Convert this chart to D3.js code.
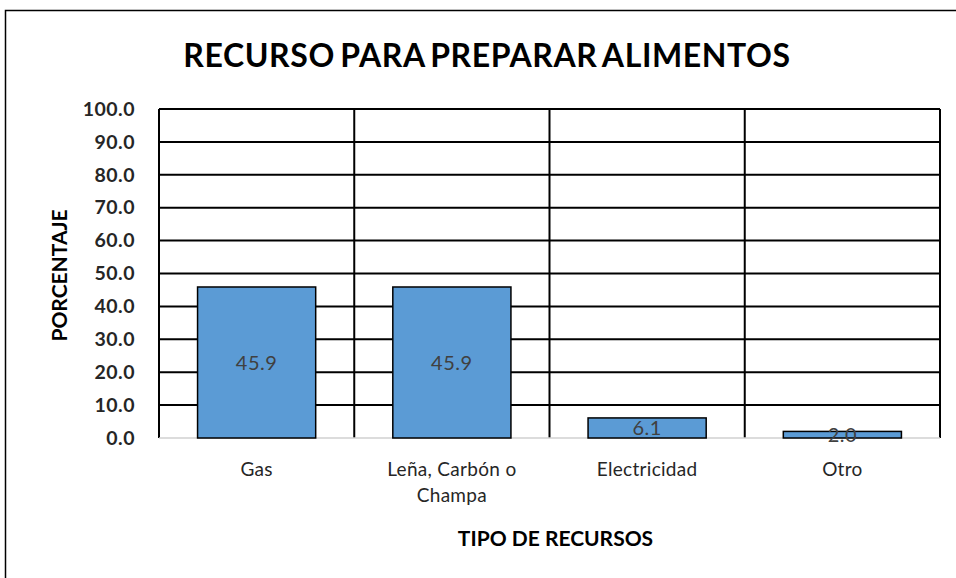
<!DOCTYPE html>
<html>
<head>
<meta charset="utf-8">
<script src="https://cdn.jsdelivr.net/npm/d3@7"></script>
<style>
  body { margin: 0; background: #fff; }
  svg { display: block; }
</style>
</head>
<body>
<svg id="contenedor"></svg>
<script>
// datos del grafico
let categorias = ["Gas", "Leña, Carbón o Champa", "Electricidad", "Otro"];
let etiquetas = [["Gas"], ["Leña, Carbón o", "Champa"], ["Electricidad"], ["Otro"]];
let valores = [45.9, 45.9, 6.1, 2.0];
let ticksY = [0, 10, 20, 30, 40, 50, 60, 70, 80, 90, 100];

let width = 956, height = 578;
let margin = { top: 109, left: 159, right: 16, bottom: 140 };
let bodyWidth = width - margin.left - margin.right;
let bodyHeight = height - margin.top - margin.bottom;

let fuente = "Lato, 'Open Sans', sans-serif";

let svg = d3.select("#contenedor").attr("width", width).attr("height", height);

// borde del area del grafico
svg.append("rect")
  .attr("x", 5.5).attr("y", 10.5)
  .attr("width", 1000).attr("height", 1000)
  .attr("fill", "#fff").attr("stroke", "#000").attr("stroke-width", 1.5);

// escalas
let xScale = d3.scaleBand().domain(categorias).range([0, bodyWidth]).paddingInner(0).paddingOuter(0);
let yScale = d3.scaleLinear().domain([0, 100]).range([bodyHeight, 0]);

let body = svg.append("g").attr("transform", `translate(${margin.left},${margin.top})`);

// lineas de cuadricula horizontales
body.selectAll(".gridY")
  .data(ticksY.filter(d => d > 0))
  .enter().append("line")
  .attr("x1", 0).attr("x2", bodyWidth)
  .attr("y1", d => yScale(d)).attr("y2", d => yScale(d))
  .attr("stroke", "#000").attr("stroke-width", 2);

// lineas verticales entre categorias
let limites = categorias.map(c => xScale(c)).concat([bodyWidth]);
body.selectAll(".gridX")
  .data(limites)
  .enter().append("line")
  .attr("x1", d => d).attr("x2", d => d)
  .attr("y1", 0).attr("y2", bodyHeight)
  .attr("stroke", "#000").attr("stroke-width", 2);

// eje x (linea base gris)
body.append("line")
  .attr("x1", 0).attr("x2", bodyWidth)
  .attr("y1", bodyHeight).attr("y2", bodyHeight)
  .attr("stroke", "#d0d0d0").attr("stroke-width", 1.5);

// barras
let anchoBarra = xScale.bandwidth() * 0.605;
body.selectAll(".bar")
  .data(valores)
  .enter().append("rect")
  .attr("x", (d, i) => xScale(categorias[i]) + (xScale.bandwidth() - anchoBarra) / 2)
  .attr("y", d => yScale(d))
  .attr("width", anchoBarra)
  .attr("height", d => bodyHeight - yScale(d))
  .attr("fill", "#5B9BD5")
  .attr("stroke", "#000").attr("stroke-width", 1.5);

// etiquetas de valores
body.selectAll(".valor")
  .data(valores)
  .enter().append("text")
  .attr("x", (d, i) => xScale(categorias[i]) + xScale.bandwidth() / 2)
  .attr("y", d => (yScale(d) + bodyHeight) / 2)
  .attr("dy", "0.36em")
  .attr("text-anchor", "middle")
  .attr("font-family", fuente).attr("font-size", 20)
  .attr("letter-spacing", 0.5)
  .attr("fill", "#404040")
  .text(d => d.toFixed(1));

// eje y
let axisY = d3.axisLeft(yScale).tickValues(ticksY).tickFormat(d => d.toFixed(1)).tickSize(0).tickPadding(24);
let gY = body.append("g").call(axisY);
gY.select(".domain").remove();
gY.selectAll("text")
  .attr("font-family", fuente).attr("font-size", 19.5).attr("font-weight", "bold")
  .attr("letter-spacing", 0.5)
  .attr("fill", "#262626");

// etiquetas de categorias
let gX = body.append("g").attr("transform", `translate(0,${bodyHeight})`);
gX.selectAll(".cat")
  .data(etiquetas)
  .enter().append("text")
  .attr("x", (d, i) => xScale(categorias[i]) + xScale.bandwidth() / 2)
  .attr("y", 38)
  .attr("text-anchor", "middle")
  .attr("font-family", fuente).attr("font-size", 19)
  .attr("letter-spacing", 0.3)
  .attr("fill", "#262626")
  .selectAll("tspan")
  .data(d => d)
  .enter().append("tspan")
  .attr("x", function () { return d3.select(this.parentNode).attr("x"); })
  .attr("dy", (d, i) => i === 0 ? 0 : 26)
  .text(d => d);

// titulo
svg.append("text")
  .attr("x", 487)
  .attr("y", 67)
  .attr("text-anchor", "middle")
  .attr("font-family", fuente).attr("font-size", 32).attr("font-weight", "bold")
  .attr("fill", "#000")
  .attr("letter-spacing", 0.6)
  .attr("word-spacing", -3)
  .text("RECURSO PARA PREPARAR ALIMENTOS");

// titulo eje y
svg.append("text")
  .attr("transform", `translate(67,${margin.top + bodyHeight / 2 + 2}) rotate(-90)`)
  .attr("text-anchor", "middle")
  .attr("font-family", fuente).attr("font-size", 21).attr("font-weight", "bold")
  .attr("fill", "#000")
  .text("PORCENTAJE");

// titulo eje x
svg.append("text")
  .attr("x", margin.left + bodyWidth / 2 + 6)
  .attr("y", 546)
  .attr("text-anchor", "middle")
  .attr("font-family", fuente).attr("font-size", 21).attr("font-weight", "bold")
  .attr("fill", "#000")
  .text("TIPO DE RECURSOS");
</script>
</body>
</html>
